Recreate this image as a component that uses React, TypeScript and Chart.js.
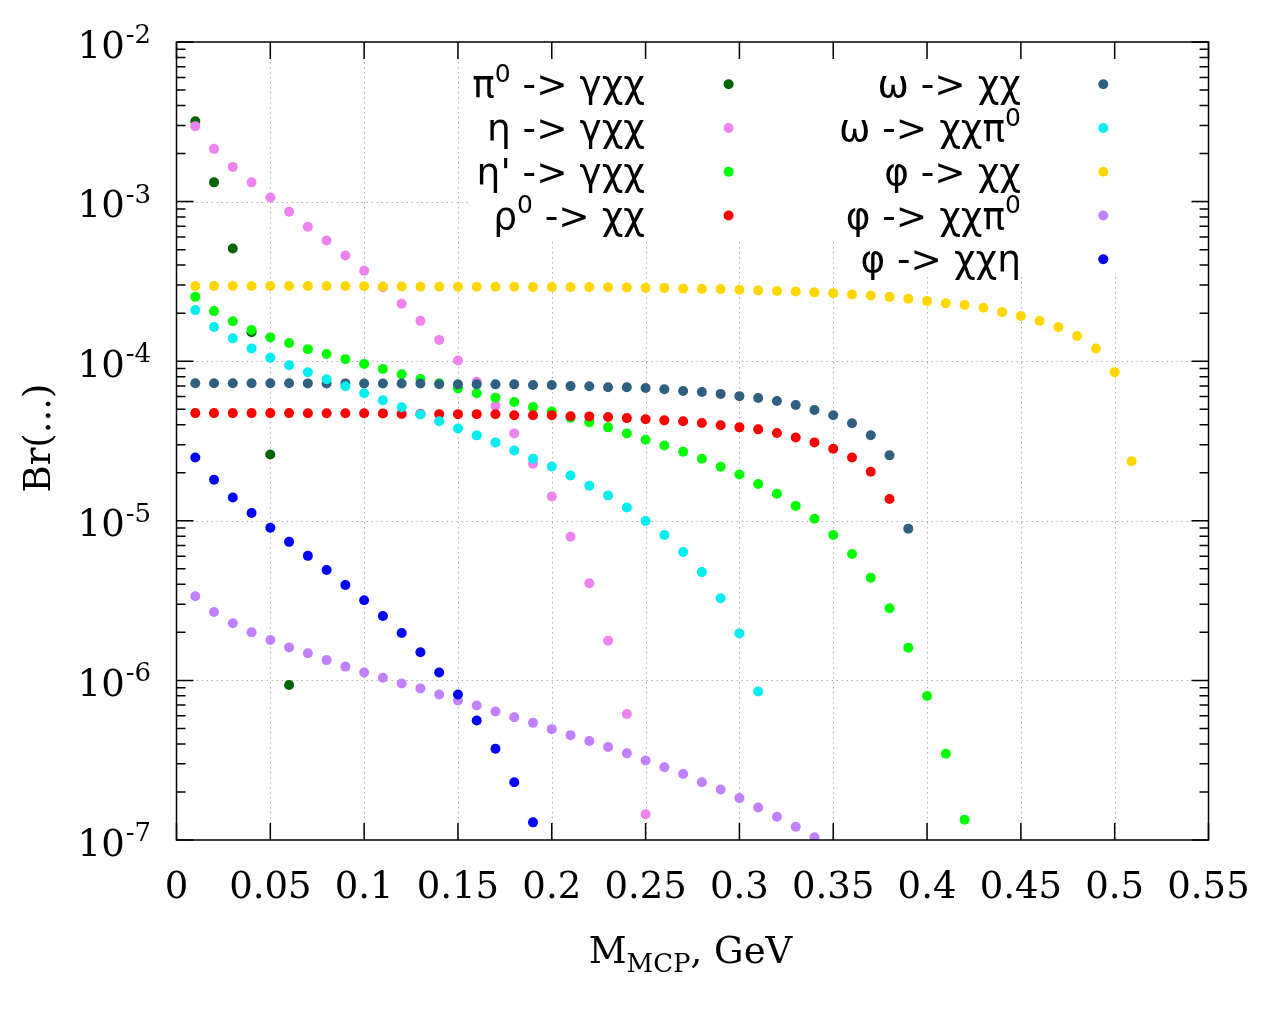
import React, { useEffect, useRef } from 'react';
import { Chart, registerables } from 'chart.js';

Chart.register(...registerables);

// ---------------- data ----------------
const massGeV = [
  0.01, 0.02, 0.03, 0.04, 0.05, 0.06, 0.07, 0.08, 0.09, 0.10,
  0.11, 0.12, 0.13, 0.14, 0.15, 0.16, 0.17, 0.18, 0.19, 0.20,
  0.21, 0.22, 0.23, 0.24, 0.25, 0.26, 0.27, 0.28, 0.29, 0.30,
  0.31, 0.32, 0.33, 0.34, 0.35, 0.36, 0.37, 0.38, 0.39, 0.40,
  0.41, 0.42, 0.43, 0.44, 0.45, 0.46, 0.47, 0.48, 0.49, 0.50,
  0.509,
];

const pi0GammaChiChi = [3.19e-3, 1.32e-3, 5.08e-4, 1.52e-4, 2.6e-5, 9.35e-7];

const etaGammaChiChi = [
  2.97e-3, 2.14e-3, 1.65e-3, 1.32e-3, 1.06e-3, 8.65e-4, 6.96e-4, 5.7e-4, 4.59e-4, 3.69e-4,
  2.91e-4, 2.29e-4, 1.79e-4, 1.36e-4, 1.01e-4, 7.44e-5, 5.25e-5, 3.53e-5, 2.28e-5, 1.42e-5,
  7.94e-6, 4.06e-6, 1.77e-6, 6.16e-7, 1.45e-7,
];

const etaPrimeGammaChiChi = [
  2.53e-4, 2.06e-4, 1.78e-4, 1.57e-4, 1.41e-4, 1.3e-4, 1.19e-4, 1.11e-4, 1.03e-4, 9.62e-5,
  8.95e-5, 8.28e-5, 7.74e-5, 7.27e-5, 6.76e-5, 6.29e-5, 5.91e-5, 5.55e-5, 5.17e-5, 4.84e-5,
  4.42e-5, 4.15e-5, 3.85e-5, 3.53e-5, 3.22e-5, 2.96e-5, 2.71e-5, 2.45e-5, 2.18e-5, 1.95e-5,
  1.7e-5, 1.48e-5, 1.24e-5, 1.03e-5, 8.15e-6, 6.2e-6, 4.4e-6, 2.83e-6, 1.6e-6, 7.98e-7,
  3.47e-7, 1.34e-7,
];

const rho0ChiChi = [
  4.73e-5, 4.73e-5, 4.73e-5, 4.73e-5, 4.73e-5, 4.73e-5, 4.72e-5, 4.72e-5, 4.72e-5, 4.72e-5,
  4.71e-5, 4.67e-5, 4.67e-5, 4.66e-5, 4.66e-5, 4.66e-5, 4.65e-5, 4.59e-5, 4.59e-5, 4.58e-5,
  4.52e-5, 4.51e-5, 4.47e-5, 4.4e-5, 4.33e-5, 4.26e-5, 4.21e-5, 4.1e-5, 3.97e-5, 3.85e-5,
  3.74e-5, 3.55e-5, 3.33e-5, 3.1e-5, 2.83e-5, 2.49e-5, 2.03e-5, 1.37e-5,
];

const omegaChiChi = [
  7.27e-5, 7.27e-5, 7.27e-5, 7.27e-5, 7.27e-5, 7.27e-5, 7.26e-5, 7.26e-5, 7.26e-5, 7.25e-5,
  7.25e-5, 7.25e-5, 7.24e-5, 7.17e-5, 7.16e-5, 7.16e-5, 7.16e-5, 7.16e-5, 7.1e-5, 7.09e-5,
  6.98e-5, 6.97e-5, 6.87e-5, 6.86e-5, 6.8e-5, 6.68e-5, 6.51e-5, 6.41e-5, 6.24e-5, 6.04e-5,
  5.88e-5, 5.63e-5, 5.31e-5, 4.95e-5, 4.59e-5, 4.08e-5, 3.44e-5, 2.57e-5, 8.93e-6,
];

const omegaChiChiPi0 = [
  2.09e-4, 1.64e-4, 1.39e-4, 1.2e-4, 1.05e-4, 9.44e-5, 8.53e-5, 7.7e-5, 6.97e-5, 6.29e-5,
  5.69e-5, 5.14e-5, 4.64e-5, 4.2e-5, 3.79e-5, 3.43e-5, 3.1e-5, 2.76e-5, 2.45e-5, 2.19e-5,
  1.92e-5, 1.66e-5, 1.44e-5, 1.21e-5, 9.96e-6, 8.15e-6, 6.37e-6, 4.77e-6, 3.27e-6, 1.97e-6,
  8.51e-7,
];

const phiChiChi = [
  2.96e-4, 2.96e-4, 2.96e-4, 2.96e-4, 2.96e-4, 2.96e-4, 2.96e-4, 2.96e-4, 2.96e-4, 2.95e-4,
  2.94e-4, 2.94e-4, 2.93e-4, 2.93e-4, 2.93e-4, 2.93e-4, 2.93e-4, 2.93e-4, 2.92e-4, 2.92e-4,
  2.92e-4, 2.92e-4, 2.91e-4, 2.9e-4, 2.89e-4, 2.88e-4, 2.85e-4, 2.84e-4, 2.83e-4, 2.8e-4,
  2.77e-4, 2.75e-4, 2.73e-4, 2.7e-4, 2.67e-4, 2.62e-4, 2.58e-4, 2.53e-4, 2.46e-4, 2.38e-4,
  2.31e-4, 2.25e-4, 2.16e-4, 2.03e-4, 1.92e-4, 1.79e-4, 1.64e-4, 1.44e-4, 1.2e-4, 8.54e-5,
  2.36e-5,
];

const phiChiChiPi0 = [
  3.37e-6, 2.68e-6, 2.28e-6, 2.0e-6, 1.79e-6, 1.61e-6, 1.48e-6, 1.34e-6, 1.22e-6, 1.12e-6,
  1.04e-6, 9.57e-7, 8.91e-7, 8.16e-7, 7.48e-7, 6.96e-7, 6.38e-7, 5.88e-7, 5.42e-7, 4.95e-7,
  4.54e-7, 4.17e-7, 3.83e-7, 3.49e-7, 3.15e-7, 2.86e-7, 2.59e-7, 2.3e-7, 2.07e-7, 1.83e-7,
  1.6e-7, 1.4e-7, 1.21e-7, 1.04e-7,
];

const phiChiChiEta = [
  2.49e-5, 1.81e-5, 1.4e-5, 1.12e-5, 9.04e-6, 7.38e-6, 6.03e-6, 4.92e-6, 3.96e-6, 3.18e-6,
  2.53e-6, 1.98e-6, 1.5e-6, 1.12e-6, 8.16e-7, 5.6e-7, 3.73e-7, 2.3e-7, 1.29e-7,
];

const seriesLabels = [
  'π^0 -> γχχ',
  'η -> γχχ',
  "η' -> γχχ",
  'ρ^0 -> χχ',
  'ω -> χχ',
  'ω -> χχπ^0',
  'φ -> χχ',
  'φ -> χχπ^0',
  'φ -> χχη',
];

const seriesColors = [
  '#006400', '#ee82ee', '#00ff00', '#ff0000', '#306080',
  '#00eeee', '#ffd700', '#c080ff', '#0000ff',
];

const seriesValues = [
  pi0GammaChiChi, etaGammaChiChi, etaPrimeGammaChiChi, rho0ChiChi, omegaChiChi,
  omegaChiChiPi0, phiChiChi, phiChiChiPi0, phiChiChiEta,
];

const xTickValues = [0, 0.05, 0.1, 0.15, 0.2, 0.25, 0.3, 0.35, 0.4, 0.45, 0.5, 0.55];
const xTickLabels = ['0', '0.05', '0.1', '0.15', '0.2', '0.25', '0.3', '0.35', '0.4', '0.45', '0.5', '0.55'];
const yTickExponents = [-7, -6, -5, -4, -3, -2];

const xTitle = ['M', 'MCP', ', GeV'];
const yTitle = 'Br(...)';

// ---------------- drawing helpers ----------------
const SERIF = '"DejaVu Serif", serif';
const SANS = '"DejaVu Sans", sans-serif';

type Seg = { t: string; sup: boolean };
function parseRich(s: string): Seg[] {
  const out: Seg[] = [];
  let buf = '';
  for (let i = 0; i < s.length; i++) {
    if (s[i] === '^' && i + 1 < s.length) {
      if (buf) out.push({ t: buf, sup: false });
      buf = '';
      out.push({ t: s[i + 1], sup: true });
      i++;
    } else buf += s[i];
  }
  if (buf) out.push({ t: buf, sup: false });
  return out;
}

function drawRichRight(
  ctx: CanvasRenderingContext2D, s: string, xRight: number, baseline: number,
  size: number, supSize: number, raise: number, family: string,
) {
  const segs = parseRich(s);
  const widths = segs.map((g) => {
    ctx.font = `${g.sup ? supSize : size}px ${family}`;
    return ctx.measureText(g.t).width;
  });
  const total = widths.reduce((a, b) => a + b, 0);
  let x = xRight - total;
  ctx.textAlign = 'left';
  ctx.textBaseline = 'alphabetic';
  segs.forEach((g, i) => {
    ctx.font = `${g.sup ? supSize : size}px ${family}`;
    ctx.fillText(g.t, x, g.sup ? baseline - raise : baseline);
    x += widths[i];
  });
}

function drawPow10(ctx: CanvasRenderingContext2D, e: number, xRight: number, py: number) {
  const sup = String(e);
  ctx.font = `26px ${SERIF}`;
  const ws = ctx.measureText(sup).width;
  ctx.font = `37px ${SERIF}`;
  const wm = ctx.measureText('10').width;
  const x0 = xRight - ws - wm;
  ctx.textAlign = 'left';
  ctx.textBaseline = 'alphabetic';
  ctx.fillText('10', x0, py + 15.5);
  ctx.font = `26px ${SERIF}`;
  ctx.fillText(sup, x0 + wm + 1, py + 1);
}

const gnuplotLook = {
  id: 'gnuplotLook',
  beforeDatasetsDraw(chart: any) {
    const { ctx, chartArea: a, scales } = chart;
    const xs = scales.x;
    const ys = scales.y;
    ctx.save();
    ctx.strokeStyle = '#b0b0b0';
    ctx.lineWidth = 1;
    ctx.setLineDash([1.5, 3.5]);
    xTickValues.forEach((v) => {
      if (v <= 0 || v >= 0.55) return;
      const px = Math.round(xs.getPixelForValue(v)) + 0.5;
      ctx.beginPath();
      ctx.moveTo(px, a.top);
      ctx.lineTo(px, a.bottom);
      ctx.stroke();
    });
    yTickExponents.forEach((e) => {
      if (e === -7 || e === -2) return;
      const py = Math.round(ys.getPixelForValue(Math.pow(10, e))) + 0.5;
      ctx.beginPath();
      ctx.moveTo(a.left, py);
      ctx.lineTo(a.right, py);
      ctx.stroke();
    });
    ctx.setLineDash([]);
    // opaque key background
    ctx.fillStyle = '#ffffff';
    ctx.fillRect(469, a.top + 1, 719, 199);
    ctx.fillRect(840, a.top + 199, 348, 32);
    ctx.restore();
  },
  afterDatasetsDraw(chart: any) {
    const { ctx, chartArea: a, scales } = chart;
    const xs = scales.x;
    const ys = scales.y;
    ctx.save();
    ctx.strokeStyle = '#000000';
    ctx.lineWidth = 1.5;
    ctx.beginPath();
    xTickValues.forEach((v) => {
      const px = xs.getPixelForValue(v);
      ctx.moveTo(px, a.bottom);
      ctx.lineTo(px, a.bottom - 17);
      ctx.moveTo(px, a.top);
      ctx.lineTo(px, a.top + 17);
    });
    yTickExponents.forEach((e) => {
      for (let m = 1; m <= 9; m++) {
        if (e === -2 && m > 1) continue;
        const py = ys.getPixelForValue(m * Math.pow(10, e));
        const len = m === 1 ? 17 : 9;
        ctx.moveTo(a.left, py);
        ctx.lineTo(a.left + len, py);
        ctx.moveTo(a.right, py);
        ctx.lineTo(a.right - len, py);
      }
    });
    ctx.stroke();
    ctx.strokeRect(a.left, a.top, a.right - a.left, a.bottom - a.top);

    ctx.fillStyle = '#000000';
    ctx.font = `37px ${SERIF}`;
    ctx.textAlign = 'center';
    ctx.textBaseline = 'alphabetic';
    xTickValues.forEach((v, i) => {
      ctx.fillText(xTickLabels[i], xs.getPixelForValue(v), a.bottom + 58);
    });
    yTickExponents.forEach((e) => {
      drawPow10(ctx, e, a.left - 26.5, ys.getPixelForValue(Math.pow(10, e)));
    });

    // y title
    ctx.save();
    ctx.translate(50, (a.top + a.bottom) / 2 - 3);
    ctx.rotate(-Math.PI / 2);
    ctx.font = `37px ${SERIF}`;
    ctx.textAlign = 'center';
    ctx.textBaseline = 'alphabetic';
    ctx.fillText(yTitle, 0, 0);
    ctx.restore();

    // x title with subscript
    ctx.font = `37px ${SERIF}`;
    const w1 = ctx.measureText(xTitle[0]).width;
    const w3 = ctx.measureText(xTitle[2]).width;
    ctx.font = `26px ${SERIF}`;
    const w2 = ctx.measureText(xTitle[1]).width;
    const cx = (a.left + a.right) / 2 - 2;
    let x = cx - (w1 + w2 + w3) / 2;
    const base = a.bottom + 123;
    ctx.textAlign = 'left';
    ctx.font = `37px ${SERIF}`;
    ctx.fillText(xTitle[0], x, base);
    x += w1;
    ctx.font = `26px ${SERIF}`;
    ctx.fillText(xTitle[1], x, base + 9);
    x += w2;
    ctx.font = `37px ${SERIF}`;
    ctx.fillText(xTitle[2], x, base);

    // key
    const rowY0 = 84.3;
    const rowStep = 43.75;
    seriesLabels.forEach((lab, i) => {
      const col = i < 4 ? 0 : 1;
      const row = i < 4 ? i : i - 4;
      const cy = rowY0 + row * rowStep;
      const textRight = col === 0 ? 645 : 1021;
      const markX = col === 0 ? 728.6 : 1103.3;
      ctx.fillStyle = '#000000';
      drawRichRight(ctx, lab, textRight, cy + 13, 37.5, 25, 15.5, SANS);
      ctx.fillStyle = seriesColors[i];
      ctx.beginPath();
      ctx.arc(markX, cy, 5, 0, Math.PI * 2);
      ctx.fill();
    });
    ctx.restore();
  },
};

export default function App() {
  const ref = useRef<HTMLCanvasElement | null>(null);
  useEffect(() => {
    if (!ref.current) return;
    const datasets = seriesValues.map((vals, i) => ({
      label: seriesLabels[i].replace('^', ''),
      data: vals.map((v, k) => ({ x: massGeV[k], y: v })),
      showLine: false,
      pointRadius: 5,
      pointHoverRadius: 5,
      pointBorderWidth: 0,
      pointBackgroundColor: seriesColors[i],
      borderColor: seriesColors[i],
      backgroundColor: seriesColors[i],
      order: seriesValues.length - i,
      clip: 0,
    }));
    const chart = new Chart(ref.current, {
      type: 'scatter',
      data: { datasets },
      options: {
        animation: false,
        responsive: false,
        devicePixelRatio: 1,
        events: [],
        layout: { padding: { left: 0, right: 71.5, top: 42, bottom: 0 } },
        plugins: { legend: { display: false }, tooltip: { enabled: false } },
        scales: {
          x: {
            type: 'linear',
            min: 0,
            max: 0.55,
            grid: { display: false },
            border: { display: false },
            ticks: { display: false },
            afterBuildTicks: (s: any) => {
              s.ticks = xTickValues.map((v) => ({ value: v }));
            },
            afterFit: (s: any) => {
              s.height = 184;
              s.paddingLeft = 0;
              s.paddingRight = 0;
            },
          },
          y: {
            type: 'logarithmic',
            min: 1e-7,
            max: 1e-2,
            grid: { display: false },
            border: { display: false },
            ticks: { display: false },
            afterBuildTicks: (s: any) => {
              s.ticks = yTickExponents.map((e) => ({ value: Math.pow(10, e) }));
            },
            afterFit: (s: any) => {
              s.width = 176.5;
              s.paddingTop = 0;
              s.paddingBottom = 0;
            },
          },
        },
      },
      plugins: [gnuplotLook],
    } as any);
    return () => chart.destroy();
  }, []);
  return (
    <div style={{ position: 'absolute', left: 0, top: 0, width: 1280, height: 1024, background: '#ffffff' }}>
      <canvas ref={ref} width={1280} height={1024} style={{ width: 1280, height: 1024, display: 'block' }} />
    </div>
  );
}
